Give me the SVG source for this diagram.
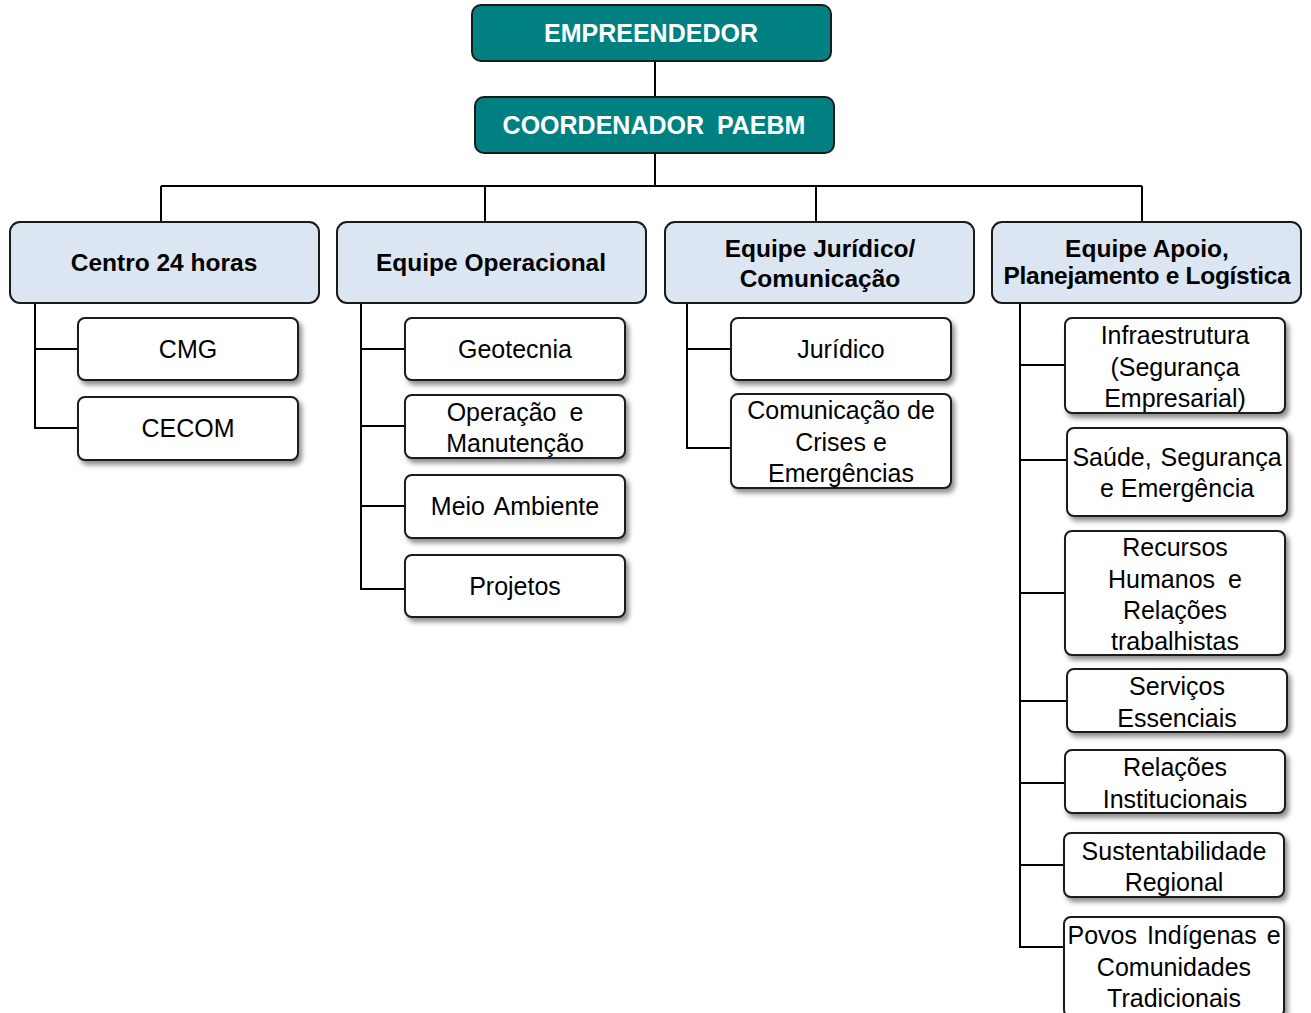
<svg xmlns="http://www.w3.org/2000/svg" width="1311" height="1013" viewBox="0 0 1311 1013">
<defs>
<filter id="sh" x="-10%" y="-10%" width="130%" height="140%">
<feDropShadow dx="3" dy="4" stdDeviation="2.5" flood-color="#000" flood-opacity="0.45"/>
</filter>
<style>
.top{fill:#008080;stroke:#1a1a1a;stroke-width:2}
.mid{fill:#dce6f2;stroke:#1a1a1a;stroke-width:2}
.leaf{fill:#fff;stroke:#1a1a1a;stroke-width:2;filter:url(#sh)}
.tt{font-family:"Liberation Sans",Arial,sans-serif;font-weight:bold;font-size:25px;fill:#fff;text-anchor:middle;dominant-baseline:central}
.mt{font-family:"Liberation Sans",Arial,sans-serif;font-weight:bold;font-size:24.5px;fill:#000;text-anchor:middle;dominant-baseline:central}
.lt{font-family:"Liberation Sans",Arial,sans-serif;font-size:25px;fill:#000;text-anchor:middle;dominant-baseline:central}
.con{fill:none;stroke:#000;stroke-width:2}
</style>
</defs>
<g id="connectors" class="con">
<path d="M655 61V97M655 153V186M161 186H1142M161 186V222M485 186V222M816 186V222M1142 186V222"/>
<path d="M35 303V428H78M35 349H78"/>
<path d="M361 303V589H405M361 349H405M361 426H405M361 506H405"/>
<path d="M687 303V448H731M687 349H731"/>
<path d="M1020 303V947H1064M1020 365H1065M1020 460H1067M1020 593H1065M1020 701H1067M1020 783H1065M1020 865H1064"/>
</g>
<g id="empreendedor"><rect class="top" x="472" y="5" width="359" height="56" rx="9"/><text class="tt" x="651" y="33">EMPREENDEDOR</text></g>
<g id="coordenador"><rect class="top" x="475" y="97" width="359" height="56" rx="9"/><text class="tt" x="654" y="125" word-spacing="6">COORDENADOR PAEBM</text></g>

<g id="centro24"><rect class="mid" x="10" y="222" width="309" height="81" rx="10"/><text class="mt" x="164" y="262">Centro 24 horas</text></g>
<g id="operacional"><rect class="mid" x="337" y="222" width="309" height="81" rx="10"/><text class="mt" x="491" y="262">Equipe Operacional</text></g>
<g id="juridico-com"><rect class="mid" x="665" y="222" width="309" height="81" rx="10"/><text class="mt" x="820" y="248">Equipe Jurídico/</text><text class="mt" x="820" y="278">Comunicação</text></g>
<g id="apoio"><rect class="mid" x="992" y="222" width="309" height="81" rx="10"/><text class="mt" x="1147" y="248">Equipe Apoio,</text><text class="mt" x="1147" y="275" letter-spacing="-0.3">Planejamento e Logística</text></g>

<g id="cmg"><rect class="leaf" x="78" y="318" width="220" height="62" rx="7"/><text class="lt" x="188" y="349">CMG</text></g>
<g id="cecom"><rect class="leaf" x="78" y="397" width="220" height="63" rx="7"/><text class="lt" x="188" y="428">CECOM</text></g>

<g id="geotecnia"><rect class="leaf" x="405" y="318" width="220" height="62" rx="7"/><text class="lt" x="515" y="349">Geotecnia</text></g>
<g id="operacao"><rect class="leaf" x="405" y="395" width="220" height="63" rx="7"/><text class="lt" x="515" y="412" word-spacing="6">Operação e</text><text class="lt" x="515" y="443">Manutenção</text></g>
<g id="meio-ambiente"><rect class="leaf" x="405" y="475" width="220" height="63" rx="7"/><text class="lt" x="515" y="506" word-spacing="3">Meio Ambiente</text></g>
<g id="projetos"><rect class="leaf" x="405" y="555" width="220" height="62" rx="7"/><text class="lt" x="515" y="586">Projetos</text></g>

<g id="juridico"><rect class="leaf" x="731" y="318" width="220" height="62" rx="7"/><text class="lt" x="841" y="349">Jurídico</text></g>
<g id="comunicacao"><rect class="leaf" x="731" y="394" width="220" height="94" rx="7"/><text class="lt" x="841" y="410">Comunicação de</text><text class="lt" x="841" y="442">Crises e</text><text class="lt" x="841" y="473">Emergências</text></g>

<g id="infraestrutura"><rect class="leaf" x="1065" y="318" width="220" height="95" rx="7"/><text class="lt" x="1175" y="335">Infraestrutura</text><text class="lt" x="1175" y="367">(Segurança</text><text class="lt" x="1175" y="398">Empresarial)</text></g>
<g id="saude"><rect class="leaf" x="1067" y="428" width="220" height="88" rx="7"/><text class="lt" x="1177" y="457" word-spacing="2">Saúde, Segurança</text><text class="lt" x="1177" y="488">e Emergência</text></g>
<g id="rh"><rect class="leaf" x="1065" y="531" width="220" height="124" rx="7"/><text class="lt" x="1175" y="547">Recursos</text><text class="lt" x="1175" y="579" word-spacing="6">Humanos e</text><text class="lt" x="1175" y="610">Relações</text><text class="lt" x="1175" y="641">trabalhistas</text></g>
<g id="servicos"><rect class="leaf" x="1067" y="669" width="220" height="63" rx="7"/><text class="lt" x="1177" y="686">Serviços</text><text class="lt" x="1177" y="718">Essenciais</text></g>
<g id="relacoes"><rect class="leaf" x="1065" y="750" width="220" height="63" rx="7"/><text class="lt" x="1175" y="767">Relações</text><text class="lt" x="1175" y="799">Institucionais</text></g>
<g id="sustentabilidade"><rect class="leaf" x="1064" y="833" width="220" height="64" rx="7"/><text class="lt" x="1174" y="851">Sustentabilidade</text><text class="lt" x="1174" y="882">Regional</text></g>
<g id="povos"><rect class="leaf" x="1064" y="917" width="220" height="100" rx="7"/><text class="lt" x="1174" y="935" word-spacing="3">Povos Indígenas e</text><text class="lt" x="1174" y="967">Comunidades</text><text class="lt" x="1174" y="998">Tradicionais</text></g>
</svg>
